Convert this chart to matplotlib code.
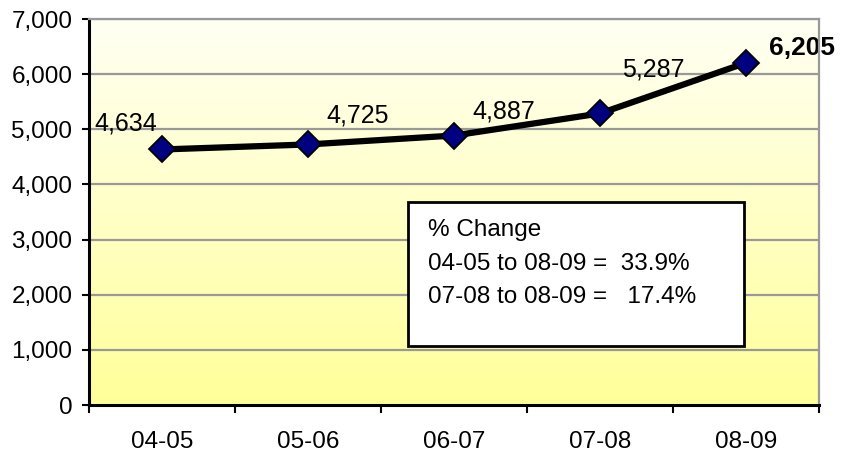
import numpy as np
import matplotlib.pyplot as plt
from matplotlib.colors import LinearSegmentedColormap
from matplotlib.patches import Rectangle

# data
years = ['04-05', '05-06', '06-07', '07-08', '08-09']
values = [4634, 4725, 4887, 5287, 6205]
label_text = ['4,634', '4,725', '4,887', '5,287', '6,205']
label_offsets = [(-36, 26), (50, 29), (50, 24), (53, 44), (56, 15)]
box_lines = ['% Change', '04-05 to 08-09 =  33.9%', '07-08 to 08-09 =   17.4%']

plt.rcParams['font.family'] = ['Liberation Sans', 'DejaVu Sans']

fig = plt.figure(figsize=(8.46, 4.59), dpi=100)
ax = fig.add_axes([0.1052, 0.1176, 0.8628, 0.841])

x = np.arange(len(years))
ax.set_xlim(-0.5, len(years) - 0.5)
ax.set_ylim(0, 7000)

# yellow gradient background
cmap = LinearSegmentedColormap.from_list('bg', ['#FFFF99', '#FFFFF4'])
grad = np.linspace(0, 1, 256).reshape(-1, 1)
ax.imshow(grad, cmap=cmap, aspect='auto', origin='lower',
          extent=(-0.5, len(years) - 0.5, 0, 7000), zorder=0)

for yv in range(1000, 7001, 1000):
    ax.axhline(yv, color='#999999', lw=1.6, zorder=1)

ax.plot(x, values, color='black', lw=4.5, zorder=3)
ax.plot(x, values, ls='none', marker='D', ms=13.5, mfc='#000080',
        mec='black', mew=1.3, zorder=4)

for i, (v, t) in enumerate(zip(values, label_text)):
    last = i == len(values) - 1
    ax.annotate(t, (x[i], v), xytext=label_offsets[i], textcoords='offset pixels',
                ha='center', va='center', fontsize=19 if last else 18,
                fontweight='bold' if last else 'normal', zorder=5,
                annotation_clip=False)

# % change box
ax.add_patch(Rectangle((0.437, 0.153), 0.46, 0.373, transform=ax.transAxes,
                       fc='white', ec='black', lw=2, zorder=6))
for line, yy in zip(box_lines, [0.453, 0.365, 0.279]):
    ax.text(0.464, yy, line, transform=ax.transAxes, ha='left', va='center',
            fontsize=17.5, zorder=7)

# axes styling
ax.set_yticks(range(0, 7001, 1000))
ax.set_yticklabels([f'{v:,}' for v in range(0, 7001, 1000)], fontsize=17.5)
ax.tick_params(axis='y', length=5, width=1.5, pad=7)
ax.set_xticks(np.arange(-0.5, len(years), 1.0))
ax.set_xticklabels([])
ax.tick_params(axis='x', which='major', length=6, width=1.5)
ax.set_xticks(x, minor=True)
ax.set_xticklabels(years, minor=True, fontsize=17.5)
ax.tick_params(axis='x', which='minor', length=0, pad=19)

for side in ['left', 'bottom']:
    ax.spines[side].set_linewidth(2.2)
    ax.spines[side].set_color('black')
for side in ['top', 'right']:
    ax.spines[side].set_linewidth(1.6)
    ax.spines[side].set_color('#999999')
for s in ax.spines.values():
    s.set_zorder(8)

fig.savefig('out.png', dpi=100)
